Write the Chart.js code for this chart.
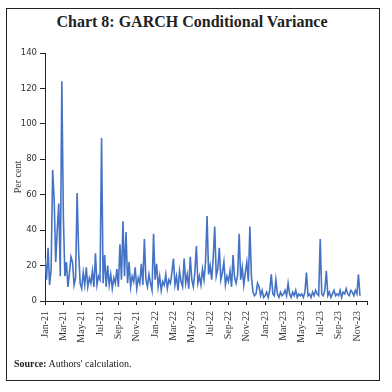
<!DOCTYPE html>
<html>
<head>
<meta charset="utf-8">
<script src="https://cdn.jsdelivr.net/npm/chart.js@4"></script>
<style>
  body { margin: 0; background: #fff; }
  #wrap { position: relative; width: 392px; height: 392px; }
  #frame { position: absolute; left: 6px; top: 8px; width: 372px; height: 371px; border: 1px solid #222; }
  #titulo { position: absolute; left: 0; top: 13px; width: 384px; text-align: center;
            font: bold 16px "Liberation Serif", serif; color: #222; }
  #fonte { position: absolute; left: 14px; top: 358px; font: 10px "Liberation Serif", serif; color: #222; }
  canvas { position: absolute; left: 0; top: 0; }
</style>
</head>
<body>
<div id="wrap">
  <div id="frame"></div>
  <div id="titulo">Chart 8: GARCH Conditional Variance</div>
  <canvas id="grafico" width="392" height="392"></canvas>
  <div id="fonte"><b>Source:</b> Authors' calculation.</div>
</div>
<script>
// valores, 6 pontos por mes
const valores2021 = [
    24, 12, 30, 9, 18, 74,    // jan
    57, 22, 40, 55, 14, 124,  // fev
    48, 14, 22, 8, 16, 25,    // mar
    22, 9, 13, 61, 28, 10,    // abr
    7, 16, 9, 19, 8, 13,      // mai
    10, 17, 8, 27, 9, 14,     // jun
    12, 92, 10, 26, 8, 20,    // jul
    9, 15, 7, 13, 10, 18,     // ago
    8, 32, 12, 45, 14, 39,    // set
    10, 22, 8, 14, 11, 19,    // out
    7, 13, 10, 21, 9, 35,     // nov
    12, 8, 15, 10, 6, 38      // dez
];
const valores2022 = [
    12, 21, 8, 14, 6, 11,
    9, 15, 7, 12, 10, 16,
    24, 9, 14, 6, 17, 11,
    8, 24, 10, 15, 7, 25,
    12, 8, 16, 31, 10, 14,
    9, 18, 12, 22, 48, 15,
    20, 12, 24, 42, 14, 18,
    30, 12, 16, 22, 9, 14,
    11, 17, 8, 26, 13, 10,
    15, 38, 12, 19, 9, 16,
    22, 11, 42, 14, 5, 3,
    4, 10, 8, 3, 6, 2
];
const valores2023 = [
    3, 5, 2, 6, 15, 4,
    3, 12, 4, 2, 5, 3,
    4, 6, 3, 10, 4, 2,
    5, 3, 6, 2, 4, 3,
    4, 2, 5, 16, 3, 4,
    2, 5, 3, 6, 4, 3,
    35, 4, 3, 6, 17, 3,
    5, 2, 4, 6, 3, 4,
    3, 6, 2, 5, 4, 7,
    4, 3, 6, 5, 3, 6,
    4, 15, 3
];
const rotulosMes = ['Jan-21', 'Mar-21', 'May-21', 'Jul-21', 'Sep-21', 'Nov-21',
    'Jan-22', 'Mar-22', 'May-22', 'Jul-22', 'Sep-22', 'Nov-22',
    'Jan-23', 'Mar-23', 'May-23', 'Jul-23', 'Sep-23', 'Nov-23'];
const pontosPorMes = 6;
const fimEixo = 35.1; // meses

const serie = valores2021.concat(valores2022, valores2023);
const pontos = serie.map((v, i) => ({ x: i / pontosPorMes, y: v }));

const ctx = document.getElementById('grafico');

new Chart(ctx, {
    type: 'line',
    data: {
        datasets: [{
            label: 'Conditional variance',
            data: pontos,
            borderColor: '#4472C4',
            borderWidth: 1.6,
            pointRadius: 0,
            tension: 0
        }]
    },
    options: {
        responsive: false,
        animation: false,
        layout: { padding: { left: 12, top: 53, right: 25, bottom: 41 } },
        plugins: { legend: { display: false }, tooltip: { enabled: false } },
        scales: {
            x: {
                type: 'linear',
                min: 0,
                max: fimEixo,
                afterBuildTicks: (eixo) => {
                    const t = rotulosMes.map((r, i) => ({ value: i * 2 }));
                    t.push({ value: fimEixo });
                    eixo.ticks = t;
                },
                afterFit: (eixo) => { eixo.height = 50; },
                border: { color: '#222', width: 1 },
                grid: { drawOnChartArea: false, tickLength: 4, color: '#222' },
                ticks: {
                    minRotation: 90,
                    maxRotation: 90,
                    padding: 6,
                    color: '#333',
                    font: { family: 'Liberation Serif', size: 10 },
                    callback: (v) => rotulosMes[v / 2] || ''
                }
            },
            y: {
                min: 0,
                max: 140,
                afterFit: (eixo) => { eixo.width = 33; },
                border: { color: '#222', width: 1 },
                grid: { drawOnChartArea: false, tickLength: 5, color: '#222' },
                ticks: {
                    stepSize: 20,
                    padding: 3,
                    color: '#333',
                    font: { family: 'DejaVu Sans', size: 8.5 }
                },
                title: {
                    display: true,
                    text: 'Per cent',
                    color: '#333',
                    padding: 0,
                    font: { family: 'Liberation Serif', size: 10 }
                }
            }
        }
    }
});
</script>
</body>
</html>
